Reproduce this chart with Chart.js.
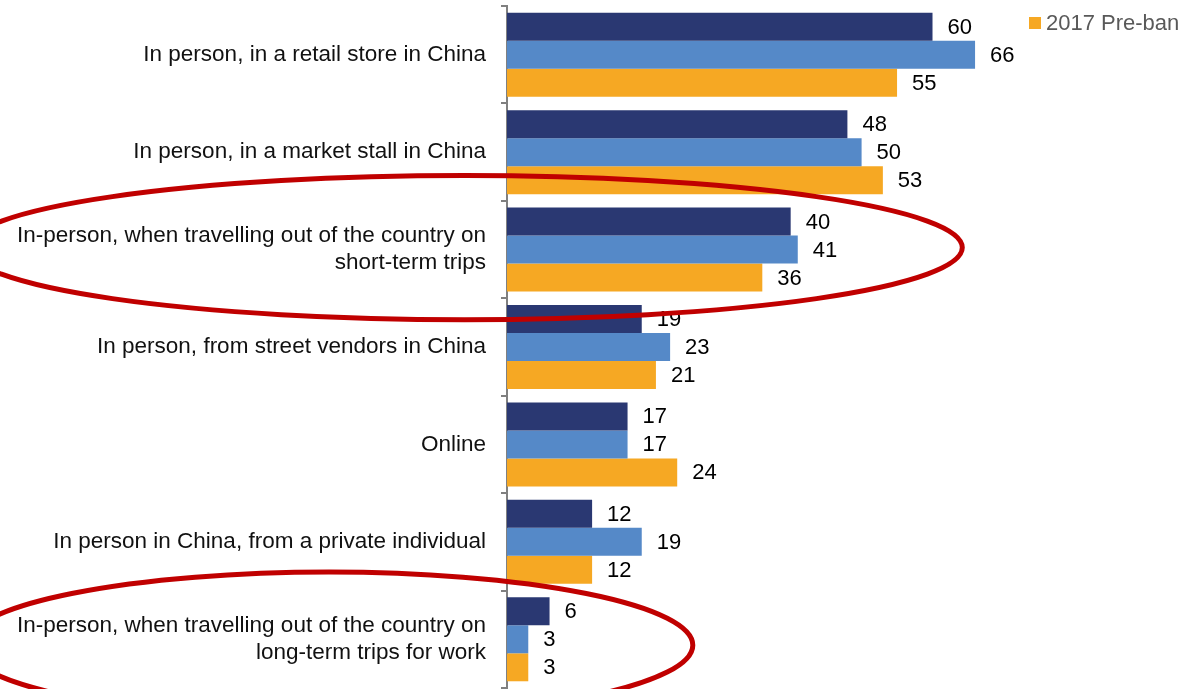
<!DOCTYPE html>
<html>
<head>
<meta charset="utf-8">
<script src="https://cdn.jsdelivr.net/npm/chart.js@4.4.1/dist/chart.umd.min.js"></script>
<style>
  html, body { margin: 0; padding: 0; background: #fff; overflow: hidden; }
  #wrap { width: 1202px; height: 689px; }
</style>
</head>
<body>
<div id="wrap"><canvas id="grafico" width="1202" height="689"></canvas></div>
<script>
// datos
const categorias = [
    "In person, in a retail store in China",
    "In person, in a market stall in China",
    ["In-person, when travelling out of the country on", "short-term trips"],
    "In person, from street vendors in China",
    "Online",
    "In person in China, from a private individual",
    ["In-person, when travelling out of the country on", "long-term trips for work"]
];
const serieA = [60, 48, 40, 19, 17, 12, 6];
const serieB = [66, 50, 41, 23, 17, 19, 3];
const serie2017 = [55, 53, 36, 21, 24, 12, 3];
const nombres = ["Serie 1", "Serie 2", "2017 Pre-ban"];
const colores = ["#2a3872", "#5589c8", "#f6a823"];

// elipses rojas (en unidades de escala: centro x, radio x, indice categoria, radio y)
const elipses = [
    { cx: -6, rx: 70.2, cat: 2, dy: -0.02, ry: 0.74 },
    { cx: -25.1, rx: 51.3, cat: 6, dy: 0.06, ry: 0.75 }
];

const FUENTE = "'Liberation Sans', Arial, sans-serif";

const pluginEtiquetas = {
    id: "etiquetas",
    afterDatasetsDraw(chart) {
        const ctx = chart.ctx;
        ctx.save();
        ctx.font = "22px " + FUENTE;
        ctx.fillStyle = "#000";
        ctx.textBaseline = "middle";
        ctx.textAlign = "left";
        chart.data.datasets.forEach((ds, i) => {
            const meta = chart.getDatasetMeta(i);
            meta.data.forEach((bar, j) => {
                ctx.fillText(String(ds.data[j]), bar.x + 15, bar.y + 1);
            });
        });
        ctx.restore();
    },
    afterDraw(chart) {
        const ctx = chart.ctx;
        const xs = chart.scales.x;
        const ys = chart.scales.y;
        const alto = ys.getPixelForValue(1) - ys.getPixelForValue(0);
        ctx.save();
        // elipses
        ctx.strokeStyle = "#c00000";
        ctx.lineWidth = 5;
        elipses.forEach(e => {
            const cx = xs.getPixelForValue(e.cx);
            const rx = xs.getPixelForValue(e.cx + e.rx) - cx;
            const cy = ys.getPixelForValue(e.cat) + e.dy * alto;
            ctx.beginPath();
            ctx.ellipse(cx, cy, rx, e.ry * alto, 0, 0, Math.PI * 2);
            ctx.stroke();
        });
        // leyenda (solo 2017 Pre-ban)
        ctx.fillStyle = colores[2];
        ctx.fillRect(1029, 17, 12, 12);
        ctx.fillStyle = "#595959";
        ctx.font = "22px " + FUENTE;
        ctx.textBaseline = "middle";
        ctx.textAlign = "left";
        ctx.fillText(nombres[2], 1046, 24);
        ctx.restore();
    }
};

new Chart(document.getElementById("grafico"), {
    type: "bar",
    data: {
        labels: categorias,
        datasets: [serieA, serieB, serie2017].map((d, i) => ({
            label: nombres[i],
            data: d,
            backgroundColor: colores[i],
            borderWidth: 0,
            categoryPercentage: 0.862,
            barPercentage: 1
        }))
    },
    options: {
        indexAxis: "y",
        responsive: false,
        animation: false,
        layout: { autoPadding: false, padding: { top: 6, bottom: 1, left: 0, right: 0 } },
        scales: {
            x: {
                display: false,
                min: 0,
                max: 98
            },
            y: {
                afterFit(scale) {
                    scale.width = 507;
                    scale.paddingTop = 0;
                    scale.paddingBottom = 0;
                },
                grid: {
                    drawOnChartArea: false,
                    drawTicks: true,
                    tickLength: 6,
                    color: "#808080",
                    lineWidth: 2
                },
                border: { display: true, color: "#808080", width: 2 },
                ticks: {
                    color: "#111",
                    padding: 15,
                    font: { family: FUENTE, size: 22.5, lineHeight: 1.2 }
                }
            }
        },
        plugins: {
            legend: { display: false },
            tooltip: { enabled: false }
        }
    },
    plugins: [pluginEtiquetas]
});
</script>
</body>
</html>
